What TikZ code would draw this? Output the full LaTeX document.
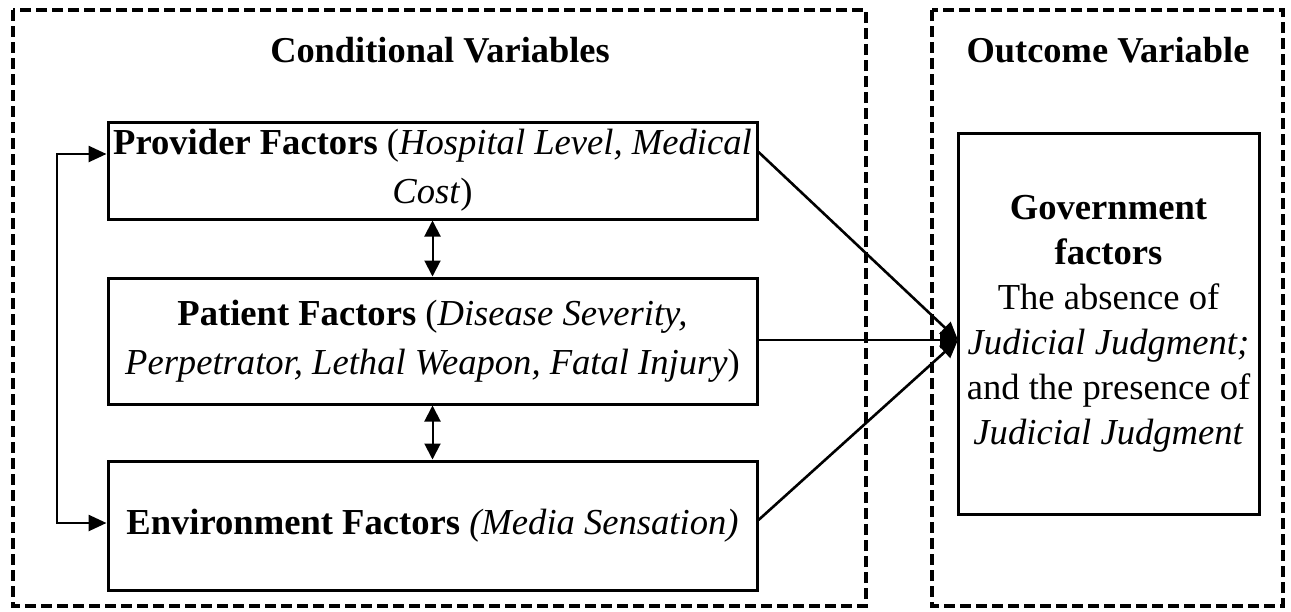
\documentclass[tikz,border=0pt]{standalone}
\usepackage{fontspec}
\setmainfont{Liberation Serif}
\usetikzlibrary{arrows.meta}
\tikzset{
  factorbox/.style={draw, line width=1.5pt, align=center, inner sep=0pt,
    minimum width=324.5pt, font=\fontsize{18.3}{24.5}\selectfont},
  outcomebox/.style={draw, line width=1.5pt, align=center, inner sep=0pt,
    minimum width=150.5pt, minimum height=190.5pt, font=\fontsize{18.3}{22.5}\selectfont},
  grouptitle/.style={font=\fontsize{18.2}{21}\selectfont\bfseries},
  groupbox/.style={draw, line width=1.7pt, dash pattern=on 5.5pt off 2.5pt},
  link/.style={line width=1.3pt, -{Triangle[length=9pt,width=8pt]}},
  twolink/.style={line width=1pt, {Triangle[length=8pt,width=8pt]}-{Triangle[length=8pt,width=8pt]}},
}

\begin{document}
\begin{tikzpicture}[x=0.5pt,y=-0.5pt]
		%%%%% START %%%%%
		\useasboundingbox (0,0) rectangle (1291,611);
		
		% dashed groups
		\draw[groupbox] (13,10) rectangle (866,606);
		\draw[groupbox] (932,10) rectangle (1283,606);
		\node[grouptitle] (condtitle) at (440,50) {Conditional Variables};
		\node[grouptitle] (outtitle) at (1108,50) {Outcome Variable};
		
		% factor boxes
		\node[factorbox, minimum height=48.5pt] (provider) at (432.5,170.5)
			{\textbf{Provider Factors} (\textit{Hospital Level, Medical}\\\textit{Cost})};
		\node[factorbox, minimum height=63pt] (patient) at (432.5,341)
			{\textbf{Patient Factors} (\textit{Disease Severity,}\\\textit{Perpetrator, Lethal Weapon, Fatal Injury})};
		\node[factorbox, minimum height=64.5pt] (environment) at (432.5,525.5)
			{\textbf{Environment Factors} \textit{(Media Sensation)}};
		
		\node[outcomebox] (government) at (1108.5,323.5)
			{\textbf{Government}\\\textbf{factors}\\The absence of\\\textit{Judicial Judgment;}\\and the presence of\\\textit{Judicial Judgment}};
		
		% links between factors
		\draw[twolink] (provider.south) -- (patient.north);
		\draw[twolink] (patient.south) -- (environment.north);
		
		\coordinate (bendtop) at (57,154);
		\coordinate (bendbot) at (57,523);
		\draw[line width=1.3pt, {Triangle[length=9pt,width=8pt]}-{Triangle[length=9pt,width=8pt]}]
			(provider.west |- bendtop) -- (bendtop) -- (bendbot) -- (environment.west |- bendbot);
		
		% links to outcome
		\coordinate (target) at (958,340);
		\draw[link] (provider.east |- 0,152) -- (target);
		\draw[link] (patient.east |- target) -- (target);
		\draw[link] (environment.east |- 0,520) -- (target);
		
		%%%%% END %%%%%
	\end{tikzpicture}
\end{document}
